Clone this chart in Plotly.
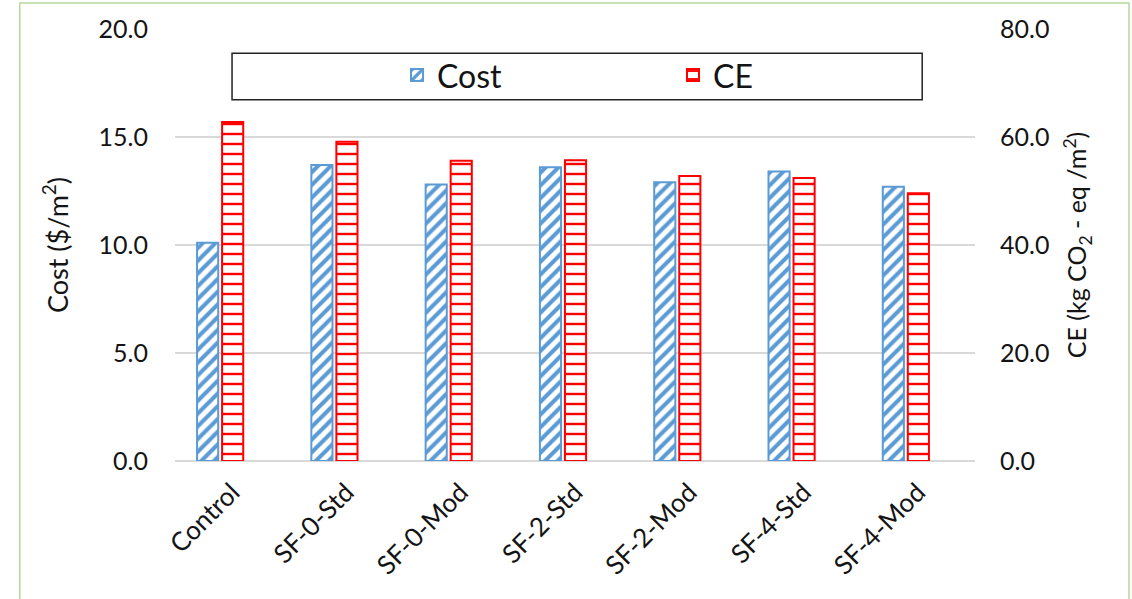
import plotly.graph_objects as go

# Mix designs compared in the study
categories = ["Control", "SF-0-Std", "SF-0-Mod", "SF-2-Std", "SF-2-Mod", "SF-4-Std", "SF-4-Mod"]
# Cost per square metre ($/m2), left axis
cost = [10.1, 13.7, 12.8, 13.6, 12.9, 13.4, 12.7]
# Carbon emissions (kg CO2-eq / m2), right axis
ce = [62.8, 59.1, 55.6, 55.7, 52.8, 52.4, 49.6]

left_ticks = [0, 5, 10, 15, 20]
right_ticks = [0, 20, 40, 60, 80]

FONT = "Lato, 'Open Sans', sans-serif"
BLUE = "#5B9BD5"
RED = "#FF0000"
GRID = "#D9D9D9"
TXT = "#141414"

fig = go.Figure()

fig.add_trace(go.Bar(
    x=categories, y=cost, name="Cost", yaxis="y",
    width=0.185, offset=-0.307,
    marker=dict(
        color="white",
        line=dict(color=BLUE, width=2),
        pattern=dict(shape="/", fgcolor=BLUE, bgcolor="white", fgopacity=1,
                     size=9, solidity=0.45),
    ),
))

fig.add_trace(go.Bar(
    x=categories, y=ce, name="CE", yaxis="y2",
    width=0.185, offset=-0.088,
    marker=dict(
        color="white",
        line=dict(color=RED, width=2),
        pattern=dict(shape="-", fgcolor=RED, bgcolor="white", fgopacity=1,
                     size=10, solidity=0.24),
    ),
))

fig.update_layout(
    width=1132, height=599,
    margin=dict(l=175, r=157, t=29, b=138),
    paper_bgcolor="white", plot_bgcolor="white",
    font=dict(family=FONT, color=TXT),
    barmode="overlay",
    showlegend=True,
    legend=dict(
        orientation="h",
        x=0.2775, xanchor="left",
        y=0.893, yanchor="middle",
        font=dict(size=32, family=FONT, color=TXT),
        bgcolor="rgba(0,0,0,0)",
        borderwidth=0,
        entrywidthmode="pixels", entrywidth=231,
    ),
    xaxis=dict(
        type="category",
        tickangle=-45,
        tickfont=dict(size=26, family=FONT, color=TXT),
        ticklabelstandoff=10,
        showgrid=False,
        showline=False,
        ticks="",
        range=[-0.5, 6.5],
    ),
    yaxis=dict(
        range=[0, 20],
        tickvals=left_ticks,
        ticktext=[f"{v:.1f}" for v in left_ticks],
        tickfont=dict(size=25, family=FONT, color=TXT),
        ticklabelstandoff=26,
        showgrid=True, gridcolor=GRID, gridwidth=1.5,
        zeroline=True, zerolinecolor=GRID, zerolinewidth=1.5,
        title=dict(text="Cost ($/m<sup>2</sup>)", font=dict(size=27, family=FONT, color=TXT), standoff=22),
    ),
    yaxis2=dict(
        overlaying="y", side="right",
        range=[0, 80],
        tickvals=right_ticks,
        ticktext=[f"{v:.1f}" for v in right_ticks],
        tickfont=dict(size=25, family=FONT, color=TXT),
        ticklabelstandoff=24,
        showgrid=False, zeroline=False,
        title=dict(text="CE (kg CO<sub>2</sub> - eq /m<sup>2</sup>)", font=dict(size=25, family=FONT, color=TXT), standoff=20),
    ),
    shapes=[
        # legend frame
        dict(type="rect", xref="paper", yref="paper",
             x0=0.0713, x1=0.934, y0=0.836, y1=0.944,
             line=dict(color="#222", width=1.5), fillcolor="white", layer="below"),
        # outer chart frame
        dict(type="rect", xref="paper", yref="paper",
             x0=-0.194, x1=1.1925, y0=-0.40, y1=1.060,
             line=dict(color="#B4D99A", width=1.5), fillcolor="rgba(0,0,0,0)", layer="below"),
    ],
)

fig.write_html("out.html")
